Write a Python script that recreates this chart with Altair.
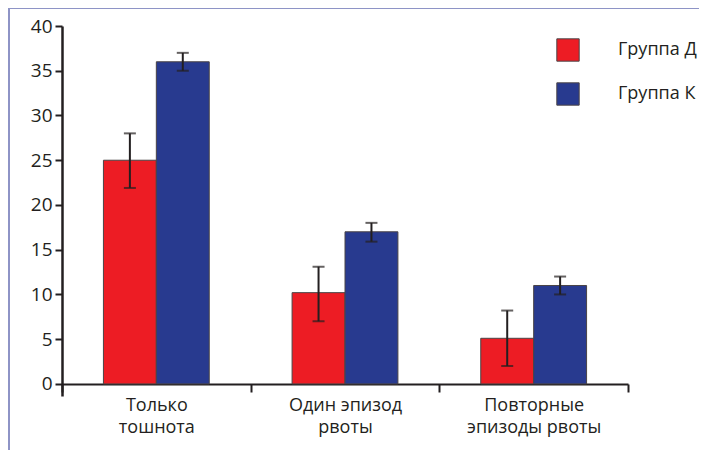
import altair as alt
import pandas as pd

categories = ["Только\nтошнота", "Один эпизод\nрвоты", "Повторные\nэпизоды рвоты"]
groups = ["Группа Д", "Группа К"]
values_d = [25.0, 10.2, 5.1]
low_d = [21.9, 7.0, 2.0]
high_d = [28.0, 13.1, 8.2]
values_k = [36.0, 17.0, 11.0]
low_k = [35.0, 15.9, 10.0]
high_k = [37.0, 18.0, 12.0]

rows = []
for i, c in enumerate(categories):
    rows.append({"cat": c, "grp": groups[0], "val": values_d[i], "lo": low_d[i], "hi": high_d[i]})
    rows.append({"cat": c, "grp": groups[1], "val": values_k[i], "lo": low_k[i], "hi": high_k[i]})
df = pd.DataFrame(rows)

FONT = "Open Sans"
DARK = "#231f20"

xenc = alt.X("cat:N", sort=categories, title=None,
             scale=alt.Scale(paddingInner=0, paddingOuter=0),
             axis=alt.Axis(labelAngle=0, labelExpr="split(datum.label, '\\n')",
                           tickBand="extent", tickSize=8, tickColor=DARK, tickWidth=2,
                           domainColor=DARK, domainWidth=2, offset=-12,
                           labelFont=FONT, labelFontSize=18, labelColor=DARK,
                           labelLineHeight=22, labelPadding=4))
xoff = alt.XOffset("grp:N", sort=groups, scale=alt.Scale(paddingInner=0, paddingOuter=0.783))

yscale = alt.Scale(domain=[-1.35, 40], nice=False, zero=False)

bars = alt.Chart(df).mark_bar(stroke="#4a4446", strokeWidth=1).encode(
    x=xenc,
    xOffset=xoff,
    y=alt.Y("val:Q", stack=None, scale=yscale, title=None,
            axis=alt.Axis(values=list(range(0, 41, 5)), grid=False, tickSize=7,
                          tickColor=DARK, tickWidth=2, domainColor=DARK, domainWidth=2.5,
                          labelFont=FONT, labelFontSize=19, labelColor=DARK, labelPadding=3)),
    y2=alt.datum(0),
    color=alt.Color("grp:N", sort=groups,
                    scale=alt.Scale(domain=groups, range=["#ed1c24", "#283a8f"]),
                    legend=alt.Legend(title=None, orient="none", legendX=494, legendY=12,
                                      symbolType="square", symbolSize=500,
                                      symbolStrokeColor="#4a4446", symbolStrokeWidth=1,
                                      labelFont=FONT, labelFontSize=18, labelColor=DARK,
                                      labelOffset=38, rowPadding=16)),
)

err = alt.Chart(df).mark_rule(color=DARK, strokeWidth=2).encode(
    x=alt.X("cat:N", sort=categories),
    xOffset=alt.XOffset("grp:N", sort=groups),
    y=alt.Y("lo:Q", scale=yscale),
    y2="hi:Q",
)
caps_lo = alt.Chart(df).mark_tick(color=DARK, thickness=2, size=12).encode(
    x=alt.X("cat:N", sort=categories),
    xOffset=alt.XOffset("grp:N", sort=groups),
    y=alt.Y("lo:Q", scale=yscale),
)
caps_hi = alt.Chart(df).mark_tick(color=DARK, thickness=2, size=12).encode(
    x=alt.X("cat:N", sort=categories),
    xOffset=alt.XOffset("grp:N", sort=groups),
    y=alt.Y("hi:Q", scale=yscale),
)

frame_top = alt.Chart(df).mark_rule(color="#8e94c6", strokeWidth=1.5).encode(
    x=alt.value(-53), x2=alt.value(700), y=alt.value(-18))
frame_left = alt.Chart(df).mark_rule(color="#8e94c6", strokeWidth=1.5).encode(
    x=alt.value(-53), y=alt.value(-18), y2=alt.value(600))

chart = alt.layer(bars, err, caps_lo, caps_hi, frame_top, frame_left).properties(
    width=566, height=370,
    background="white",
    autosize=alt.AutoSizeParams(type="none"),
    padding={"left": 54, "top": 18, "right": 71, "bottom": 54},
).configure_view(stroke=None)

chart.save("out.html", embed_options={"renderer": "svg", "actions": False})
